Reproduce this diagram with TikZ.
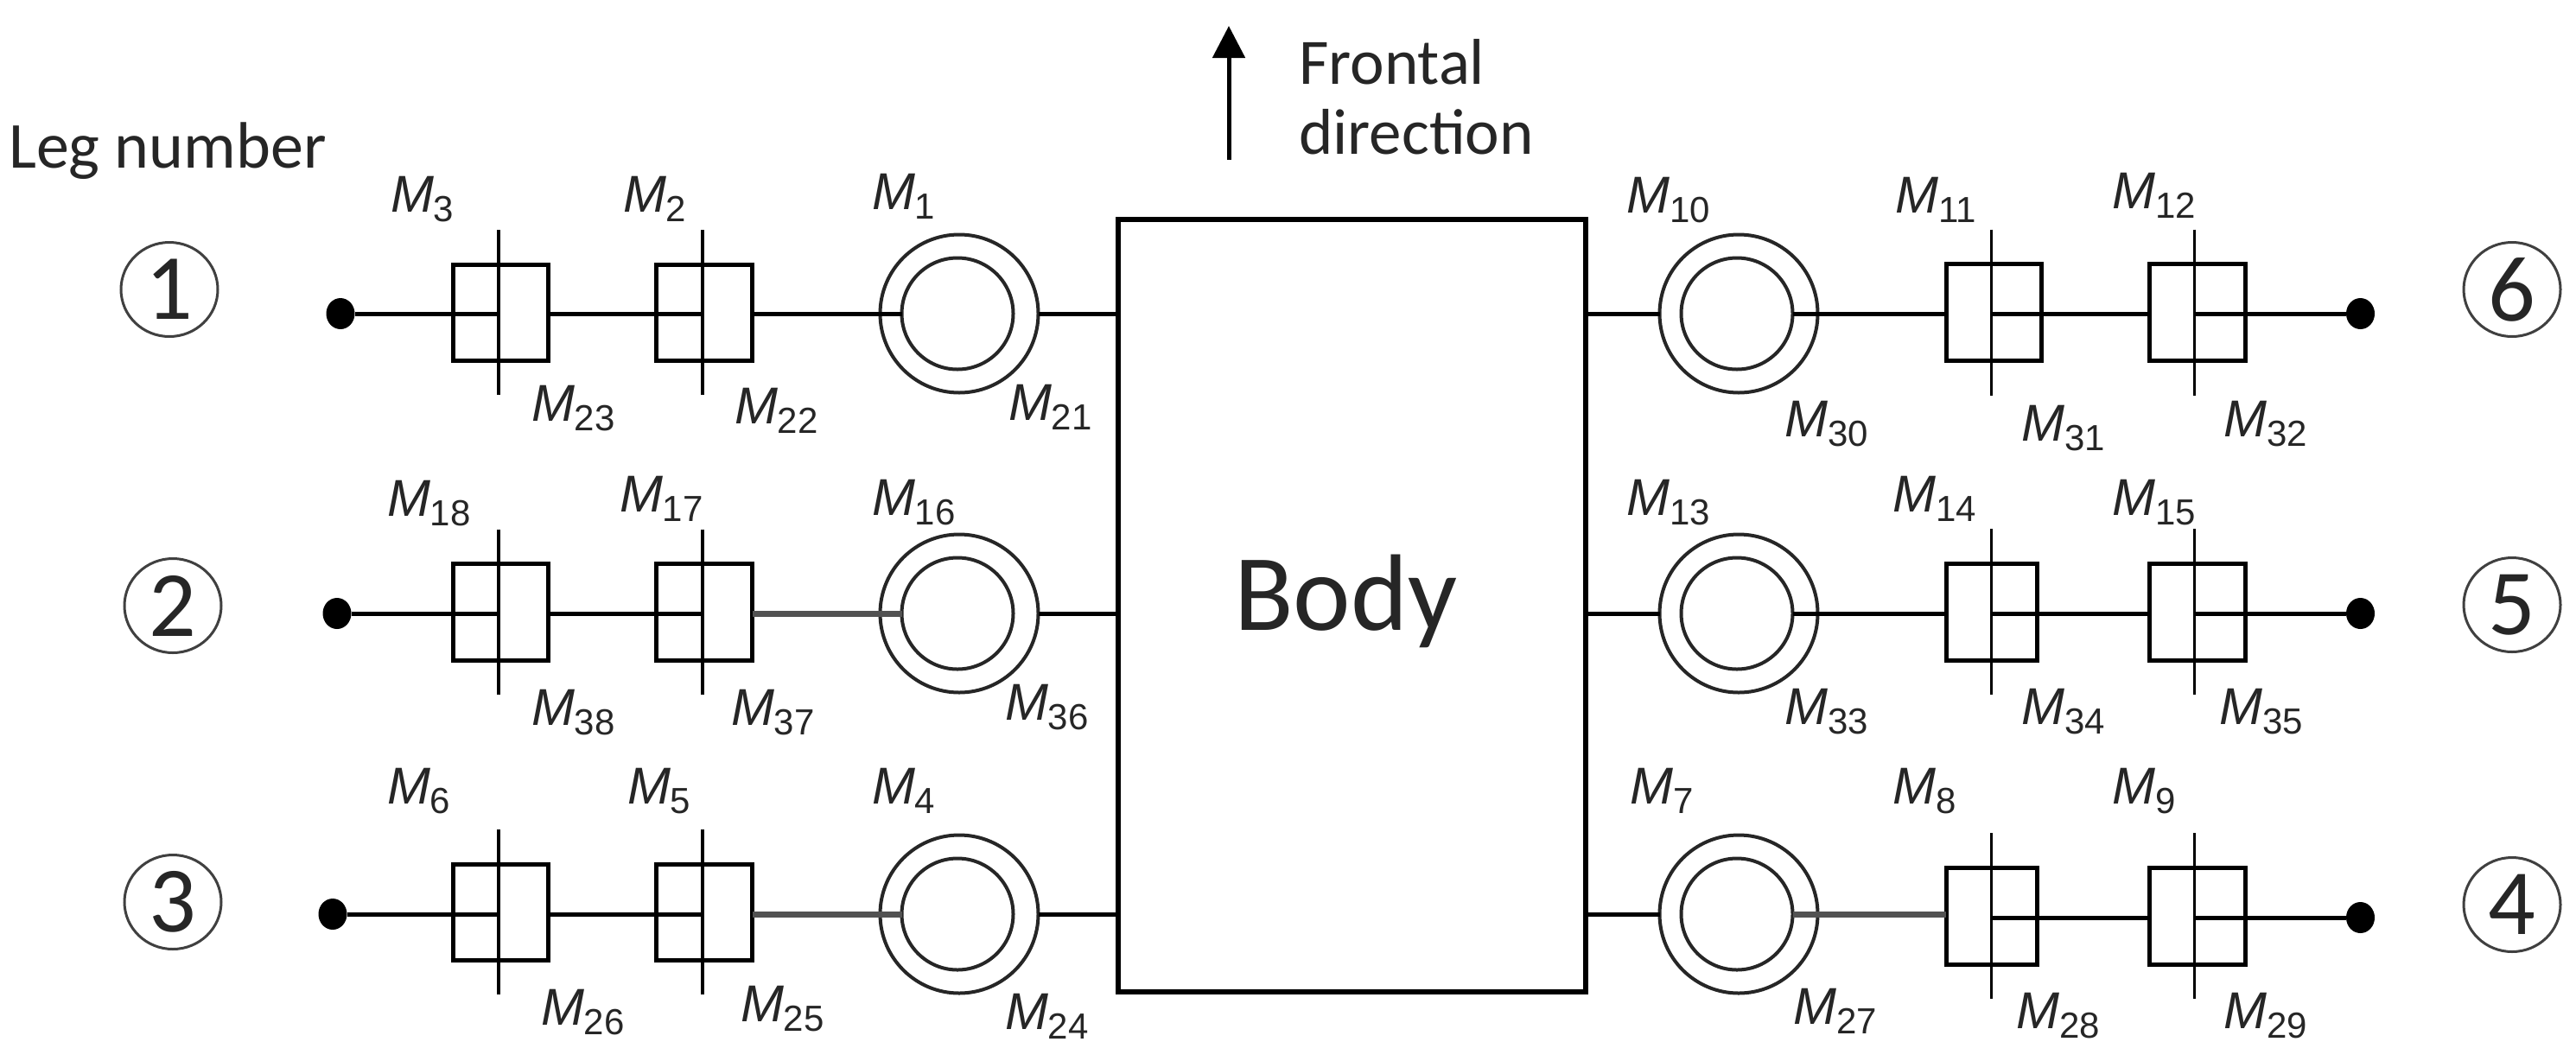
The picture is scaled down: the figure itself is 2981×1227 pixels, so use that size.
\documentclass[tikz,border=0pt]{standalone}
\usepackage{fontspec}
\usetikzlibrary{arrows.meta,shapes.geometric}
\setmainfont{Carlito}
\newfontfamily\mfont{Liberation Sans}
\newcommand{\mot}[1]{{\fontsize{60}{60}\selectfont\mfont\itshape M}\raisebox{-11pt}{\fontsize{42}{42}\selectfont\mfont #1}}
\tikzset{
  wire/.style={line width=5pt,line cap=butt},
  wiregray/.style={line width=7pt,draw=black!68},
  thin stem/.style={line width=3.5pt},
  joint/.style={rectangle,draw,line width=5pt,fill=none,inner sep=0pt,outer sep=0pt},
  ringo/.style={ellipse,draw=black!85,line width=4pt,fill=none,minimum width=183pt,minimum height=183pt,inner sep=0pt,outer sep=0pt},
  ringi/.style={ellipse,draw=black!85,line width=4pt,fill=none,minimum width=129pt,minimum height=129pt,inner sep=0pt,outer sep=0pt},
  foot/.style={ellipse,fill=black,minimum width=33pt,minimum height=36pt,inner sep=0pt,outer sep=0pt},
  mlabel/.style={anchor=base west,inner sep=0pt,outer sep=0pt,text=black!85},
  legno/.style={ellipse,draw=black!75,line width=3pt,minimum width=112pt,minimum height=109pt,inner sep=0pt,font=\fontsize{108}{108}\selectfont,text=black!85},
  plaintext/.style={anchor=base west,inner sep=0pt,text=black!85},
}
\begin{document}
\begin{tikzpicture}[x=1pt,y=-1pt]
\useasboundingbox (0,0) rectangle (2981,1227);
\fill[white] (0,0) rectangle (2981,1227);
% body
\node[draw,line width=6pt,minimum width=541pt,minimum height=894pt,inner sep=0pt,outer sep=0pt] (body) at (1564,701) {};
\node[plaintext,font=\fontsize{126}{126}\selectfont] (bodytext) at (1428,729) {Body};
% arrow
\coordinate (arrS) at (1422,185);
\coordinate (arrE) at (1422,30);
\draw[line width=5pt,-{Triangle[length=37pt,width=37pt]}] (arrS) -- (arrE);
\node[plaintext,font=\fontsize{75}{75}\selectfont] (front1) at (1503,97) {Frontal};
\node[plaintext,font=\fontsize{75}{75}\selectfont] (front2) at (1503,178) {direction};
\node[plaintext,font=\fontsize{76}{76}\selectfont] (legn) at (10,194) {Leg number};
% rows: left
\foreach \n/\y/\fx/\gs/\jy/\jh in {a/363/394/0/361.5/111, b/710/390/1/708/112, c/1058/385/1/1055.5/111}{
  \node[foot] (foot\n) at (\fx,\y) {};
  \node[joint,minimum width=110pt,minimum height=\jh pt] (j1\n) at (579,\jy) {};
  \node[joint,minimum width=111pt,minimum height=\jh pt] (j2\n) at (815,\jy) {};
  \node[ringo] (ro\n) at (1110,\y) {};
  \node[ringi] (ri\n) at (1108,\y) {};
  \coordinate (s1\n) at (577,\y);
  \coordinate (s2\n) at (813,\y);
  \draw[thin stem] (577,\jy-95.5) coordinate (t1\n) -- (577,\jy+95.5) coordinate (b1\n);
  \draw[thin stem] (813,\jy-95.5) coordinate (t2\n) -- (813,\jy+95.5) coordinate (b2\n);
  \draw[wire] (foot\n) -- (s1\n);
  \draw[wire] (j1\n.east |- s1\n) -- (s2\n);
  \ifnum\gs=1
    \draw[wiregray] (j2\n.east |- s2\n) -- (ri\n.west);
  \else
    \draw[wire] (j2\n.east |- s2\n) -- (ri\n.west);
  \fi
  \draw[wire] (ro\n.east) -- (body.west |- ro\n);
}
% rows: right
\foreach \n/\y/\fy/\gs/\sy/\jy/\jw/\jx/\st in {d/363/363/0/363/361.5/110/2307/2304.5, e/710/710/0/710/708/105/2304.5/2304.5, f/1058/1062/1/1062/1060/105/2304.5/2304.5}{
  \node[foot] (foot\n) at (2731.5,\fy) {};
  \node[joint,minimum width=\jw pt,minimum height=112pt] (j1\n) at (\jx,\jy) {};
  \node[joint,minimum width=111pt,minimum height=112pt] (j2\n) at (2542.5,\jy) {};
  \node[ringo] (ro\n) at (2012,\y) {};
  \node[ringi] (ri\n) at (2010,\y) {};
  \coordinate (s1\n) at (\st,\sy);
  \coordinate (s2\n) at (2539.5,\sy);
  \draw[thin stem] (\st,\jy-96) coordinate (t1\n) -- (\st,\jy+96) coordinate (b1\n);
  \draw[thin stem] (2539.5,\jy-96) coordinate (t2\n) -- (2539.5,\jy+96) coordinate (b2\n);
  \draw[wire] (body.east |- ro\n) -- (ro\n.west);
  \ifnum\gs=1
    \draw[wiregray] (ri\n.east) -- (j1\n.west |- ri\n);
  \else
    \draw[wire] (ri\n.east) -- (j1\n.west |- ri\n);
  \fi
  \draw[wire] (s1\n) -- (j2\n.west |- s1\n);
  \draw[wire] (s2\n) -- (foot\n);
}
% leg numbers
\node[legno] (leg1) at (196,335) {1};
\node[legno] (leg2) at (200,701) {2};
\node[legno] (leg3) at (200,1044) {3};
\node[legno] (leg4) at (2907,1047) {4};
\node[legno] (leg5) at (2907,700) {5};
\node[legno] (leg6) at (2907,335) {6};
% motor labels
\foreach \t/\x/\y in {3/452/245,2/721/245,1/1009/242,23/615/487,22/850/490,21/1167/486,
 18/448/597,17/717/592,16/1009/596,38/615/839,37/846/839,36/1163/833,
 6/448/930,5/726/930,4/1009/930,26/626/1186,25/857/1182,24/1163/1191,
 10/1882.5/246,11/2193/246,12/2444/241,30/2065/505,31/2339/510,32/2573/505,
 13/1882.5/596,14/2190/592,15/2444/596,33/2065/838,34/2339/838,35/2568/838,
 7/1886.5/930,8/2190/930,9/2444/930,27/2075/1185,28/2333/1190,29/2573/1190}{
  \node[mlabel] (m\t) at (\x,\y) {\mot{\t}};
}
\end{tikzpicture}
\end{document}
